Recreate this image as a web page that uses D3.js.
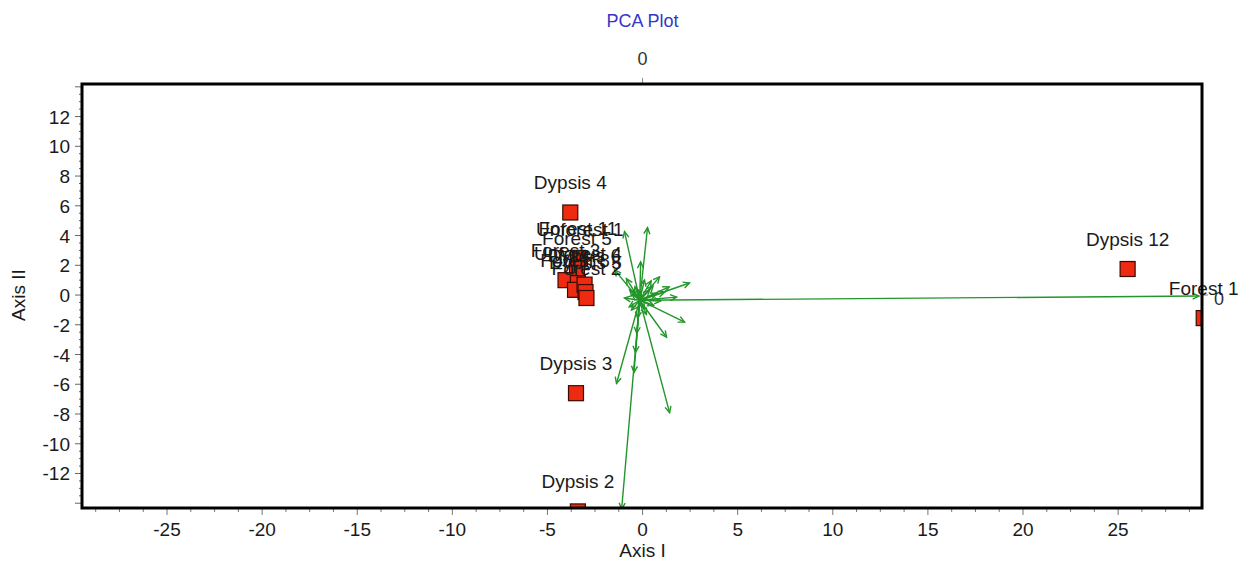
<!DOCTYPE html>
<html>
<head>
<meta charset="utf-8">
<script src="https://cdn.jsdelivr.net/npm/d3@7"></script>
<style>
  body { margin: 0; background: #fff; }
  svg { display: block; font-family: "Liberation Sans", Arial, sans-serif; }
</style>
</head>
<body>
<svg width="1246" height="571"></svg>
<script>
// sample scores
var pointNames = ["Dypsis 4", "Unforest 1", "Forest 11", "Forest 5", "Forest 3", "Unforest 4",
                  "Forest 8", "Dypsis 6", "Dypsis 5", "Forest 2", "Dypsis 3", "Dypsis 2",
                  "Dypsis 12", "Forest 1"];
var pointX = [-3.80, -3.30, -3.40, -3.45, -4.05, -3.40, -3.55, -3.05, -3.00, -2.95, -3.50, -3.40, 25.50, 29.50];
var pointY = [5.55, 2.45, 2.50, 1.80, 1.00, 0.80, 0.35, 0.70, 0.20, -0.20, -6.60, -14.55, 1.75, -1.55];

// variable loadings (arrows from the origin)
var originX = -0.15, originY = -0.35;
var arrowX = [29.25, -1.10, 0.26, -0.95, -1.47, 2.47, 2.21, 1.26, -1.37, 1.42, -0.31, -0.26,
              1.79, 0.89, -0.68, 0.37, -0.95, -0.58, 0.58, 0.10, 1.16, -0.37, -0.10, -0.45,
              0.45, -0.40, 0.75, 0.20, -0.70, 0.95, -0.20, 0.55, -0.55, 1.40, 0.10, -0.85];
var arrowY = [-0.07, -14.40, 4.53, 4.26, 1.69, 0.81, -1.82, -2.84, -5.95, -7.91, -2.57, -1.55,
              -0.14, 1.22, 0.34, 0.34, -0.20, -1.01, -0.68, 1.01, 0.20, -3.85, 2.23, -5.20,
              0.95, 0.55, 0.10, -1.30, -0.80, -0.40, 0.30, 0.60, 0.05, 0.55, -0.90, 1.10];

var xTicks = [-25, -20, -15, -10, -5, 0, 5, 10, 15, 20, 25];
var yTicks = [12, 10, 8, 6, 4, 2, 0, -2, -4, -6, -8, -10, -12];

var green = "#22962a";

var svg = d3.select("svg");
var margin = {top: 84, right: 44, bottom: 63, left: 82};
var width = 1246 - margin.left - margin.right;
var height = 571 - margin.top - margin.bottom;

var x = d3.scaleLinear().domain([-29.47, 29.41]).range([0, width]);
var y = d3.scaleLinear().domain([-14.32, 14.19]).range([height, 0]);

var g = svg.append("g")
    .attr("transform", "translate(" + margin.left + "," + margin.top + ")");

g.append("clipPath").attr("id", "plotclip")
  .append("rect").attr("width", width).attr("height", height);

// title + top axis
svg.append("text")
    .attr("x", margin.left + x(0)).attr("y", 27)
    .attr("text-anchor", "middle").attr("font-size", 18)
    .attr("fill", "#3535c8").text("PCA Plot");

svg.append("text")
    .attr("x", margin.left + x(0)).attr("y", 65)
    .attr("text-anchor", "middle").attr("font-size", 18)
    .attr("fill", "#333").text("0");

g.append("line")
    .attr("x1", x(0)).attr("x2", x(0)).attr("y1", -6).attr("y2", 0)
    .attr("stroke", "#888");

// bottom axis: minor ticks every 1.25
var xMinor = d3.range(-28.75, 29.4, 1.25);
g.selectAll(".xminor").data(xMinor).enter().append("line")
    .attr("class", "xminor")
    .attr("x1", function(d) { return x(d); }).attr("x2", function(d) { return x(d); })
    .attr("y1", height).attr("y2", function(d) { return height + (d % 5 == 0 ? 7 : 4); })
    .attr("stroke", "#777");

g.selectAll(".xlab").data(xTicks).enter().append("text")
    .attr("class", "xlab")
    .attr("x", function(d) { return x(d); }).attr("y", height + 28)
    .attr("text-anchor", "middle").attr("font-size", 19).attr("fill", "#1a1a1a")
    .text(function(d) { return d; });

// left axis: minor ticks every 0.5
var yMinor = d3.range(-14, 14.1, 0.5);
g.selectAll(".yminor").data(yMinor).enter().append("line")
    .attr("class", "yminor")
    .attr("y1", function(d) { return y(d); }).attr("y2", function(d) { return y(d); })
    .attr("x1", 0).attr("x2", function(d) { return d % 2 == 0 ? -7 : -3; })
    .attr("stroke", "#666");

g.selectAll(".ylab").data(yTicks).enter().append("text")
    .attr("class", "ylab")
    .attr("x", -12).attr("y", function(d) { return y(d) + 7; })
    .attr("text-anchor", "end").attr("font-size", 19).attr("fill", "#1a1a1a")
    .text(function(d) { return d; });

// right axis zero
g.append("line")
    .attr("x1", width).attr("x2", width + 6).attr("y1", y(0)).attr("y2", y(0))
    .attr("stroke", "#888");
g.append("text")
    .attr("x", width + 12).attr("y", y(0) + 10)
    .attr("font-size", 18).attr("fill", "#333").text("0");

// axis titles
svg.append("text")
    .attr("x", margin.left + x(0)).attr("y", 557)
    .attr("text-anchor", "middle").attr("font-size", 19).attr("fill", "#1a1a1a")
    .text("Axis I");
svg.append("text")
    .attr("transform", "translate(25," + (margin.top + y(0)) + ") rotate(-90)")
    .attr("text-anchor", "middle").attr("font-size", 19).attr("fill", "#1a1a1a")
    .text("Axis II");

// arrows
var plot = g.append("g").attr("clip-path", "url(#plotclip)");
var arrows = arrowX.map(function(d, i) { return {x: d, y: arrowY[i]}; });

plot.selectAll(".arrow").data(arrows).enter().append("line")
    .attr("class", "arrow")
    .attr("x1", x(originX)).attr("y1", y(originY))
    .attr("x2", function(d) { return x(d.x); })
    .attr("y2", function(d) { return y(d.y); })
    .attr("stroke", green).attr("stroke-width", 1.4);

function headPath(d) {
    var x2 = x(d.x), y2 = y(d.y);
    var a = Math.atan2(y2 - y(originY), x2 - x(originX));
    var len = 7, spread = 0.45;
    return "M" + (x2 - len * Math.cos(a - spread)) + "," + (y2 - len * Math.sin(a - spread)) +
           "L" + x2 + "," + y2 +
           "L" + (x2 - len * Math.cos(a + spread)) + "," + (y2 - len * Math.sin(a + spread));
}

plot.selectAll(".head").data(arrows).enter().append("path")
    .attr("class", "head")
    .attr("d", headPath)
    .attr("fill", "none").attr("stroke", green).attr("stroke-width", 1.4);

// sample squares
var points = pointNames.map(function(d, i) { return {name: d, x: pointX[i], y: pointY[i]}; });
var size = 15;

plot.selectAll(".pt").data(points).enter().append("rect")
    .attr("class", "pt")
    .attr("x", function(d) { return x(d.x) - size / 2; })
    .attr("y", function(d) { return y(d.y) - size / 2; })
    .attr("width", size).attr("height", size)
    .attr("fill", "#ee2a10").attr("stroke", "#3a0a00").attr("stroke-width", 1.2);

g.selectAll(".ptlab").data(points).enter().append("text")
    .attr("class", "ptlab")
    .attr("x", function(d) { return x(d.x); })
    .attr("y", function(d) { return y(d.y) - 23; })
    .attr("text-anchor", "middle").attr("font-size", 19).attr("fill", "#1a1a1a")
    .text(function(d) { return d.name; });

// frame
g.append("rect")
    .attr("width", width).attr("height", height)
    .attr("fill", "none").attr("stroke", "#000").attr("stroke-width", 3);
</script>
</body>
</html>
